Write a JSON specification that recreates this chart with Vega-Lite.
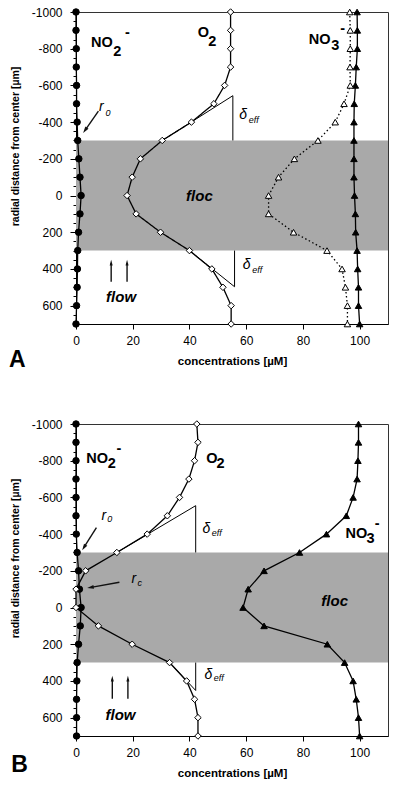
{
  "$schema": "https://vega.github.io/schema/vega-lite/v6.json",
  "padding": {"left": 8, "top": 5, "right": 8, "bottom": 3},
  "spacing": 44,
  "config": {
    "font": "Liberation Sans",
    "view": {"stroke": "#333", "strokeWidth": 1},
    "axis": {"grid": false, "domainColor": "#000", "tickColor": "#000", "labelColor": "#000", "titleColor": "#000", "labelFontSize": 12, "titleFontSize": 11.5, "titleFontWeight": "bold", "labelFlush": false, "labelOverlap": false}
  },
  "datasets": {
    "profiles": [
      {"p":"A","s":"NO2","r":-1000,"c":0},{"p":"A","s":"NO2","r":-900,"c":0},{"p":"A","s":"NO2","r":-800,"c":0.1},{"p":"A","s":"NO2","r":-700,"c":0.1},{"p":"A","s":"NO2","r":-600,"c":0.2},{"p":"A","s":"NO2","r":-500,"c":0.2},{"p":"A","s":"NO2","r":-400,"c":0.4},{"p":"A","s":"NO2","r":-300,"c":0.6},{"p":"A","s":"NO2","r":-200,"c":1.0},{"p":"A","s":"NO2","r":-100,"c":1.4},{"p":"A","s":"NO2","r":0,"c":1.8},{"p":"A","s":"NO2","r":100,"c":1.4},{"p":"A","s":"NO2","r":200,"c":0.9},{"p":"A","s":"NO2","r":300,"c":0.6},{"p":"A","s":"NO2","r":400,"c":0.5},{"p":"A","s":"NO2","r":500,"c":0.4},{"p":"A","s":"NO2","r":600,"c":0.2},{"p":"A","s":"NO2","r":700,"c":0},
      {"p":"A","s":"O2","r":-1000,"c":54.5},{"p":"A","s":"O2","r":-900,"c":54.5},{"p":"A","s":"O2","r":-800,"c":54.5},{"p":"A","s":"O2","r":-700,"c":54.5},{"p":"A","s":"O2","r":-600,"c":52.4},{"p":"A","s":"O2","r":-500,"c":48.6},{"p":"A","s":"O2","r":-400,"c":40.7},{"p":"A","s":"O2","r":-300,"c":30.4},{"p":"A","s":"O2","r":-200,"c":22.7},{"p":"A","s":"O2","r":-100,"c":19.8},{"p":"A","s":"O2","r":0,"c":18},{"p":"A","s":"O2","r":100,"c":21.2},{"p":"A","s":"O2","r":200,"c":29.8},{"p":"A","s":"O2","r":300,"c":40},{"p":"A","s":"O2","r":400,"c":47.9},{"p":"A","s":"O2","r":500,"c":51.8},{"p":"A","s":"O2","r":600,"c":54.7},{"p":"A","s":"O2","r":700,"c":54.7},
      {"p":"A","s":"NO3","r":-1000,"c":99.1},{"p":"A","s":"NO3","r":-900,"c":99.2},{"p":"A","s":"NO3","r":-800,"c":99.2},{"p":"A","s":"NO3","r":-700,"c":98.8},{"p":"A","s":"NO3","r":-600,"c":98.5},{"p":"A","s":"NO3","r":-500,"c":98.1},{"p":"A","s":"NO3","r":-400,"c":98},{"p":"A","s":"NO3","r":-300,"c":98},{"p":"A","s":"NO3","r":-200,"c":98},{"p":"A","s":"NO3","r":-100,"c":98},{"p":"A","s":"NO3","r":0,"c":98.2},{"p":"A","s":"NO3","r":100,"c":98.5},{"p":"A","s":"NO3","r":200,"c":98.6},{"p":"A","s":"NO3","r":300,"c":99.1},{"p":"A","s":"NO3","r":400,"c":99.3},{"p":"A","s":"NO3","r":500,"c":99.6},{"p":"A","s":"NO3","r":600,"c":99.6},{"p":"A","s":"NO3","r":700,"c":100},
      {"p":"A","s":"NO3o","r":-1000,"c":96.5},{"p":"A","s":"NO3o","r":-900,"c":96.7},{"p":"A","s":"NO3o","r":-800,"c":96.7},{"p":"A","s":"NO3o","r":-700,"c":96.6},{"p":"A","s":"NO3o","r":-600,"c":96.7},{"p":"A","s":"NO3o","r":-500,"c":94.5},{"p":"A","s":"NO3o","r":-400,"c":91.4},{"p":"A","s":"NO3o","r":-300,"c":85.3},{"p":"A","s":"NO3o","r":-200,"c":77},{"p":"A","s":"NO3o","r":-100,"c":71.4},{"p":"A","s":"NO3o","r":0,"c":67.9},{"p":"A","s":"NO3o","r":100,"c":67.9},{"p":"A","s":"NO3o","r":200,"c":76.7},{"p":"A","s":"NO3o","r":300,"c":88.5},{"p":"A","s":"NO3o","r":400,"c":93.8},{"p":"A","s":"NO3o","r":500,"c":95},{"p":"A","s":"NO3o","r":600,"c":95.7},{"p":"A","s":"NO3o","r":700,"c":95.7},
      {"p":"B","s":"NO2","r":-1000,"c":0},{"p":"B","s":"NO2","r":-900,"c":0},{"p":"B","s":"NO2","r":-800,"c":0},{"p":"B","s":"NO2","r":-700,"c":0},{"p":"B","s":"NO2","r":-600,"c":0},{"p":"B","s":"NO2","r":-500,"c":0},{"p":"B","s":"NO2","r":-400,"c":0.1},{"p":"B","s":"NO2","r":-300,"c":0.4},{"p":"B","s":"NO2","r":-200,"c":0.9},{"p":"B","s":"NO2","r":-100,"c":1.2},{"p":"B","s":"NO2","r":0,"c":1.8},{"p":"B","s":"NO2","r":100,"c":1.5},{"p":"B","s":"NO2","r":200,"c":0.9},{"p":"B","s":"NO2","r":300,"c":0.4},{"p":"B","s":"NO2","r":400,"c":0.3},{"p":"B","s":"NO2","r":500,"c":0.2},{"p":"B","s":"NO2","r":600,"c":0.2},{"p":"B","s":"NO2","r":700,"c":0.2},
      {"p":"B","s":"O2","r":-1000,"c":42.6},{"p":"B","s":"O2","r":-900,"c":43},{"p":"B","s":"O2","r":-800,"c":41.8},{"p":"B","s":"O2","r":-700,"c":39.8},{"p":"B","s":"O2","r":-600,"c":36.5},{"p":"B","s":"O2","r":-500,"c":32.2},{"p":"B","s":"O2","r":-400,"c":25.1},{"p":"B","s":"O2","r":-300,"c":14.4},{"p":"B","s":"O2","r":-200,"c":3.4},{"p":"B","s":"O2","r":-100,"c":0},{"p":"B","s":"O2","r":0,"c":0},{"p":"B","s":"O2","r":100,"c":7.9},{"p":"B","s":"O2","r":200,"c":19.8},{"p":"B","s":"O2","r":300,"c":33},{"p":"B","s":"O2","r":400,"c":39},{"p":"B","s":"O2","r":500,"c":41.8},{"p":"B","s":"O2","r":600,"c":43},{"p":"B","s":"O2","r":700,"c":43},
      {"p":"B","s":"NO3","r":-1000,"c":99.6},{"p":"B","s":"NO3","r":-900,"c":99.6},{"p":"B","s":"NO3","r":-800,"c":99.4},{"p":"B","s":"NO3","r":-700,"c":99.1},{"p":"B","s":"NO3","r":-600,"c":97.7},{"p":"B","s":"NO3","r":-500,"c":95.3},{"p":"B","s":"NO3","r":-400,"c":88.3},{"p":"B","s":"NO3","r":-300,"c":78.8},{"p":"B","s":"NO3","r":-200,"c":66.3},{"p":"B","s":"NO3","r":-100,"c":60.7},{"p":"B","s":"NO3","r":0,"c":58.9},{"p":"B","s":"NO3","r":100,"c":66.3},{"p":"B","s":"NO3","r":200,"c":88.6},{"p":"B","s":"NO3","r":300,"c":94.7},{"p":"B","s":"NO3","r":400,"c":97.7},{"p":"B","s":"NO3","r":500,"c":98.8},{"p":"B","s":"NO3","r":600,"c":99.6},{"p":"B","s":"NO3","r":700,"c":100}
    ],
    "floc": [
      {"p":"A","c":0,"c2":110,"r":-300,"r2":300},
      {"p":"B","c":0,"c2":110,"r":-300,"r2":300}
    ],
    "tangent": [
      {"p":"A","seg":"t1","o":1,"c":30.4,"r":-300},{"p":"A","seg":"t1","o":2,"c":55.3,"r":-544},{"p":"A","seg":"t1","o":3,"c":55.3,"r":-300},
      {"p":"A","seg":"t2","o":1,"c":40,"r":300},{"p":"A","seg":"t2","o":2,"c":55.9,"r":497},{"p":"A","seg":"t2","o":3,"c":55.9,"r":300},
      {"p":"B","seg":"t1","o":1,"c":14.4,"r":-300},{"p":"B","seg":"t1","o":2,"c":42.2,"r":-555},{"p":"B","seg":"t1","o":3,"c":42.2,"r":-300},
      {"p":"B","seg":"t2","o":1,"c":33,"r":300},{"p":"B","seg":"t2","o":2,"c":42.2,"r":452},{"p":"B","seg":"t2","o":3,"c":42.2,"r":300}
    ],
    "arrows": [
      {"p":"A","k":"r0","c":7.9,"r":-460,"c2":3.3,"r2":-358},
      {"p":"A","k":"flow","c":12.4,"r":470,"c2":12.4,"r2":368},
      {"p":"A","k":"flow","c":18.0,"r":470,"c2":18.0,"r2":368},
      {"p":"B","k":"r0","c":7.2,"r":-436,"c2":2.9,"r2":-330},
      {"p":"B","k":"rc","c":15.3,"r":-138,"c2":5.3,"r2":-110},
      {"p":"B","k":"flow","c":12.8,"r":497,"c2":12.8,"r2":390},
      {"p":"B","k":"flow","c":18.3,"r":497,"c2":18.3,"r2":390}
    ],
    "labels": [
      {"p":"A","role":"species","t":"NO","c":5.3,"r":-831},{"p":"A","role":"species","t":"2","c":13.1,"r":-782},{"p":"A","role":"species","t":"-","c":17.3,"r":-886},
      {"p":"A","role":"species","t":"O","c":42.9,"r":-886},{"p":"A","role":"species","t":"2","c":46.6,"r":-836},
      {"p":"A","role":"species","t":"NO","c":82.1,"r":-847},{"p":"A","role":"species","t":"3","c":90.0,"r":-815},{"p":"A","role":"species","t":"-","c":93.2,"r":-907},
      {"p":"A","role":"sym","t":"r","c":8.1,"r":-482},{"p":"A","role":"sym","t":"δ","c":57.6,"r":-439},{"p":"A","role":"sym","t":"δ","c":58.8,"r":379},
      {"p":"A","role":"symsub","t":"0","c":10.4,"r":-450},{"p":"A","role":"symsub","t":"eff","c":60.9,"r":-411},{"p":"A","role":"symsub","t":"eff","c":62.1,"r":406},
      {"p":"A","role":"region","t":"floc","c":38.8,"r":0},{"p":"A","role":"region","t":"flow","c":10.6,"r":551},
      {"p":"A","role":"panel","t":"A","c":-23.6,"r":896},
      {"p":"B","role":"species","t":"NO","c":3.6,"r":-809},{"p":"B","role":"species","t":"2","c":11.2,"r":-782},{"p":"B","role":"species","t":"-","c":14.3,"r":-864},
      {"p":"B","role":"species","t":"O","c":45.9,"r":-809},{"p":"B","role":"species","t":"2","c":49.5,"r":-784},
      {"p":"B","role":"species","t":"NO","c":95.0,"r":-401},{"p":"B","role":"species","t":"3","c":102.4,"r":-374},{"p":"B","role":"species","t":"-","c":105.3,"r":-456},
      {"p":"B","role":"sym","t":"r","c":9.0,"r":-501},{"p":"B","role":"sym","t":"r","c":19.6,"r":-158},{"p":"B","role":"sym","t":"δ","c":44.6,"r":-430},{"p":"B","role":"sym","t":"δ","c":45.3,"r":370},
      {"p":"B","role":"symsub","t":"0","c":11.0,"r":-482},{"p":"B","role":"symsub","t":"c","c":21.7,"r":-131},{"p":"B","role":"symsub","t":"eff","c":47.9,"r":-408},{"p":"B","role":"symsub","t":"eff","c":48.6,"r":386},
      {"p":"B","role":"region","t":"floc","c":86.5,"r":-38},{"p":"B","role":"region","t":"flow","c":10.4,"r":588},
      {"p":"B","role":"panel","t":"B","c":-22.8,"r":860}
    ]
  },
  "vconcat": [
    {
      "width": 312, "height": 312,
      "layer": [
        {"data": {"name": "floc"}, "transform": [{"filter": "datum.p==='A'"}],
         "mark": {"type": "rect", "fill": "#a9a9a9"},
         "encoding": {
           "x": {"field": "c", "type": "quantitative", "scale": {"domain": [0, 110], "nice": false, "zero": false},
                 "axis": {"title": "concentrations [µM]", "values": [0, 20, 40, 60, 80, 100], "tickCount": 20, "tickSize": 5, "labelPadding": 6, "titlePadding": 9, "labelOverlap": false}},
           "x2": {"field": "c2"},
           "y": {"field": "r", "type": "quantitative", "scale": {"domain": [-1000, 700], "reverse": true, "nice": false, "zero": false},
                 "axis": {"title": "radial distance from center [µm]", "titleFontSize": 10.5, "titleY": 134, "titlePadding": 11, "labelPadding": 8, "labelOverlap": false, "tickCount": 100,
                          "values": [-1000,-950,-900,-850,-800,-750,-700,-650,-600,-550,-500,-450,-400,-350,-300,-250,-200,-150,-100,-50,0,50,100,150,200,250,300,350,400,450,500,550,600,650,700],
                          "labelExpr": "datum.value % 200 === 0 && datum.value < 700 ? '' + datum.value : ''",
                          "tickSize": {"condition": {"test": "datum.value % 200 === 0", "value": 6}, "value": 3}}},
           "y2": {"field": "r2"}
         }},
        {"data": {"name": "tangent"}, "transform": [{"filter": "datum.p==='A'"}],
         "mark": {"type": "line", "color": "#000", "strokeWidth": 1},
         "encoding": {"x": {"field": "c", "type": "quantitative"}, "y": {"field": "r", "type": "quantitative"}, "detail": {"field": "seg"}, "order": {"field": "o", "type": "quantitative"}}},
        {"data": {"name": "profiles"}, "transform": [{"filter": "datum.p==='A'"}],
         "mark": {"type": "line", "color": "#000", "strokeWidth": 1.3},
         "encoding": {"x": {"field": "c", "type": "quantitative"}, "y": {"field": "r", "type": "quantitative"}, "detail": {"field": "s"}, "order": {"field": "r", "type": "quantitative"},
           "strokeDash": {"field": "s", "type": "nominal", "scale": {"domain": ["NO2", "O2", "NO3", "NO3o"], "range": [[1, 0], [1, 0], [1, 0], [1.5, 2.5]]}, "legend": null}}},
        {"data": {"name": "profiles"}, "transform": [{"filter": "datum.p==='A'"}],
         "mark": {"type": "point", "filled": true, "stroke": "#000", "strokeWidth": 1, "size": 42, "opacity": 1},
         "encoding": {"x": {"field": "c", "type": "quantitative"}, "y": {"field": "r", "type": "quantitative"},
           "shape": {"field": "s", "type": "nominal", "scale": {"domain": ["NO2", "O2", "NO3", "NO3o"], "range": ["circle", "diamond", "triangle-up", "triangle-up"]}, "legend": null},
           "fill": {"field": "s", "type": "nominal", "scale": {"domain": ["NO2", "O2", "NO3", "NO3o"], "range": ["#000", "#fff", "#000", "#fff"]}, "legend": null}}},
        {"data": {"name": "arrows"}, "transform": [{"filter": "datum.p==='A'"}],
         "mark": {"type": "rule", "color": "#111", "strokeWidth": 1.4},
         "encoding": {"x": {"field": "c", "type": "quantitative"}, "y": {"field": "r", "type": "quantitative"}, "x2": {"field": "c2"}, "y2": {"field": "r2"}}},
        {"data": {"name": "arrows"}, "transform": [{"filter": "datum.p==='A' && datum.k==='flow'"}],
         "mark": {"type": "point", "shape": "M0,-1L0.45,0.7L-0.45,0.7Z", "filled": true, "color": "#111", "size": 45, "opacity": 1, "angle": 0},
         "encoding": {"x": {"field": "c2", "type": "quantitative"}, "y": {"field": "r2", "type": "quantitative"}}},
        {"data": {"name": "arrows"}, "transform": [{"filter": "datum.p==='A' && datum.k==='r0'"}],
         "mark": {"type": "point", "shape": "M0,-1L0.5,0.7L-0.5,0.7Z", "filled": true, "color": "#111", "size": 60, "opacity": 1, "angle": 215},
         "encoding": {"x": {"field": "c2", "type": "quantitative"}, "y": {"field": "r2", "type": "quantitative"}}},
        {"data": {"name": "labels"}, "transform": [{"filter": "datum.p==='A' && datum.role==='species'"}],
         "mark": {"type": "text", "align": "left", "baseline": "middle", "fontSize": 14.5, "fontWeight": "bold", "color": "#000"},
         "encoding": {"x": {"field": "c", "type": "quantitative"}, "y": {"field": "r", "type": "quantitative"}, "text": {"field": "t"}}},
        {"data": {"name": "labels"}, "transform": [{"filter": "datum.p==='A' && datum.role==='sym'"}],
         "mark": {"type": "text", "align": "left", "baseline": "middle", "fontSize": 14, "fontStyle": "italic", "color": "#000"},
         "encoding": {"x": {"field": "c", "type": "quantitative"}, "y": {"field": "r", "type": "quantitative"}, "text": {"field": "t"}}},
        {"data": {"name": "labels"}, "transform": [{"filter": "datum.p==='A' && datum.role==='symsub'"}],
         "mark": {"type": "text", "align": "left", "baseline": "middle", "fontSize": 9, "fontStyle": "italic", "color": "#000"},
         "encoding": {"x": {"field": "c", "type": "quantitative"}, "y": {"field": "r", "type": "quantitative"}, "text": {"field": "t"}}},
        {"data": {"name": "labels"}, "transform": [{"filter": "datum.p==='A' && datum.role==='region'"}],
         "mark": {"type": "text", "align": "left", "baseline": "middle", "fontSize": 15, "fontStyle": "italic", "fontWeight": "bold", "color": "#000"},
         "encoding": {"x": {"field": "c", "type": "quantitative"}, "y": {"field": "r", "type": "quantitative"}, "text": {"field": "t"}}},
        {"data": {"name": "labels"}, "transform": [{"filter": "datum.p==='A' && datum.role==='panel'"}],
         "mark": {"type": "text", "align": "left", "baseline": "middle", "fontSize": 23, "fontWeight": "bold", "color": "#000"},
         "encoding": {"x": {"field": "c", "type": "quantitative"}, "y": {"field": "r", "type": "quantitative"}, "text": {"field": "t"}}}
      ]
    },
    {
      "width": 312, "height": 312,
      "layer": [
        {"data": {"name": "floc"}, "transform": [{"filter": "datum.p==='B'"}],
         "mark": {"type": "rect", "fill": "#a9a9a9"},
         "encoding": {
           "x": {"field": "c", "type": "quantitative", "scale": {"domain": [0, 110], "nice": false, "zero": false},
                 "axis": {"title": "concentrations [µM]", "values": [0, 20, 40, 60, 80, 100], "tickCount": 20, "tickSize": 5, "labelPadding": 6, "titlePadding": 9, "labelOverlap": false}},
           "x2": {"field": "c2"},
           "y": {"field": "r", "type": "quantitative", "scale": {"domain": [-1000, 700], "reverse": true, "nice": false, "zero": false},
                 "axis": {"title": "radial distance from center [µm]", "titleFontSize": 10.5, "titleY": 134, "titlePadding": 11, "labelPadding": 8, "labelOverlap": false, "tickCount": 100,
                          "values": [-1000,-950,-900,-850,-800,-750,-700,-650,-600,-550,-500,-450,-400,-350,-300,-250,-200,-150,-100,-50,0,50,100,150,200,250,300,350,400,450,500,550,600,650,700],
                          "labelExpr": "datum.value % 200 === 0 && datum.value < 700 ? '' + datum.value : ''",
                          "tickSize": {"condition": {"test": "datum.value % 200 === 0", "value": 6}, "value": 3}}},
           "y2": {"field": "r2"}
         }},
        {"data": {"name": "tangent"}, "transform": [{"filter": "datum.p==='B'"}],
         "mark": {"type": "line", "color": "#000", "strokeWidth": 1},
         "encoding": {"x": {"field": "c", "type": "quantitative"}, "y": {"field": "r", "type": "quantitative"}, "detail": {"field": "seg"}, "order": {"field": "o", "type": "quantitative"}}},
        {"data": {"name": "profiles"}, "transform": [{"filter": "datum.p==='B'"}],
         "mark": {"type": "line", "color": "#000", "strokeWidth": 1.3},
         "encoding": {"x": {"field": "c", "type": "quantitative"}, "y": {"field": "r", "type": "quantitative"}, "detail": {"field": "s"}, "order": {"field": "r", "type": "quantitative"}}},
        {"data": {"name": "profiles"}, "transform": [{"filter": "datum.p==='B'"}],
         "mark": {"type": "point", "filled": true, "stroke": "#000", "strokeWidth": 1, "size": 42, "opacity": 1},
         "encoding": {"x": {"field": "c", "type": "quantitative"}, "y": {"field": "r", "type": "quantitative"},
           "shape": {"field": "s", "type": "nominal", "scale": {"domain": ["NO2", "O2", "NO3", "NO3o"], "range": ["circle", "diamond", "triangle-up", "triangle-up"]}, "legend": null},
           "fill": {"field": "s", "type": "nominal", "scale": {"domain": ["NO2", "O2", "NO3", "NO3o"], "range": ["#000", "#fff", "#000", "#fff"]}, "legend": null}}},
        {"data": {"name": "arrows"}, "transform": [{"filter": "datum.p==='B'"}],
         "mark": {"type": "rule", "color": "#111", "strokeWidth": 1.4},
         "encoding": {"x": {"field": "c", "type": "quantitative"}, "y": {"field": "r", "type": "quantitative"}, "x2": {"field": "c2"}, "y2": {"field": "r2"}}},
        {"data": {"name": "arrows"}, "transform": [{"filter": "datum.p==='B' && datum.k==='flow'"}],
         "mark": {"type": "point", "shape": "M0,-1L0.45,0.7L-0.45,0.7Z", "filled": true, "color": "#111", "size": 45, "opacity": 1, "angle": 0},
         "encoding": {"x": {"field": "c2", "type": "quantitative"}, "y": {"field": "r2", "type": "quantitative"}}},
        {"data": {"name": "arrows"}, "transform": [{"filter": "datum.p==='B' && datum.k==='r0'"}],
         "mark": {"type": "point", "shape": "M0,-1L0.5,0.7L-0.5,0.7Z", "filled": true, "color": "#111", "size": 60, "opacity": 1, "angle": 212},
         "encoding": {"x": {"field": "c2", "type": "quantitative"}, "y": {"field": "r2", "type": "quantitative"}}},
        {"data": {"name": "arrows"}, "transform": [{"filter": "datum.p==='B' && datum.k==='rc'"}],
         "mark": {"type": "point", "shape": "M0,-1L0.5,0.7L-0.5,0.7Z", "filled": true, "color": "#111", "size": 60, "opacity": 1, "angle": 260},
         "encoding": {"x": {"field": "c2", "type": "quantitative"}, "y": {"field": "r2", "type": "quantitative"}}},
        {"data": {"name": "labels"}, "transform": [{"filter": "datum.p==='B' && datum.role==='species'"}],
         "mark": {"type": "text", "align": "left", "baseline": "middle", "fontSize": 14.5, "fontWeight": "bold", "color": "#000"},
         "encoding": {"x": {"field": "c", "type": "quantitative"}, "y": {"field": "r", "type": "quantitative"}, "text": {"field": "t"}}},
        {"data": {"name": "labels"}, "transform": [{"filter": "datum.p==='B' && datum.role==='sym'"}],
         "mark": {"type": "text", "align": "left", "baseline": "middle", "fontSize": 14, "fontStyle": "italic", "color": "#000"},
         "encoding": {"x": {"field": "c", "type": "quantitative"}, "y": {"field": "r", "type": "quantitative"}, "text": {"field": "t"}}},
        {"data": {"name": "labels"}, "transform": [{"filter": "datum.p==='B' && datum.role==='symsub'"}],
         "mark": {"type": "text", "align": "left", "baseline": "middle", "fontSize": 9, "fontStyle": "italic", "color": "#000"},
         "encoding": {"x": {"field": "c", "type": "quantitative"}, "y": {"field": "r", "type": "quantitative"}, "text": {"field": "t"}}},
        {"data": {"name": "labels"}, "transform": [{"filter": "datum.p==='B' && datum.role==='region'"}],
         "mark": {"type": "text", "align": "left", "baseline": "middle", "fontSize": 15, "fontStyle": "italic", "fontWeight": "bold", "color": "#000"},
         "encoding": {"x": {"field": "c", "type": "quantitative"}, "y": {"field": "r", "type": "quantitative"}, "text": {"field": "t"}}},
        {"data": {"name": "labels"}, "transform": [{"filter": "datum.p==='B' && datum.role==='panel'"}],
         "mark": {"type": "text", "align": "left", "baseline": "middle", "fontSize": 23, "fontWeight": "bold", "color": "#000"},
         "encoding": {"x": {"field": "c", "type": "quantitative"}, "y": {"field": "r", "type": "quantitative"}, "text": {"field": "t"}}}
      ]
    }
  ]
}
